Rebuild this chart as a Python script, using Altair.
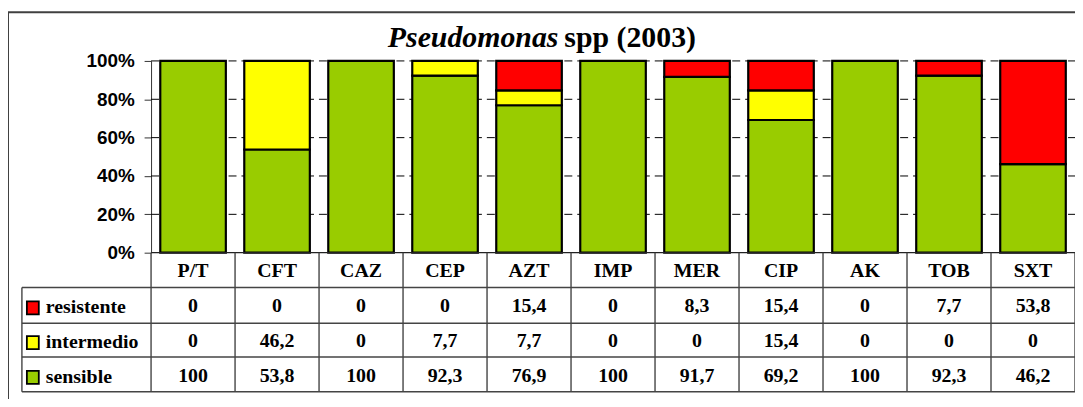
import altair as alt
import pandas as pd

cats = ["P/T", "CFT", "CAZ", "CEP", "AZT", "IMP", "MER", "CIP", "AK", "TOB", "SXT"]
resistente = [0, 0, 0, 0, 15.4, 0, 8.3, 15.4, 0, 7.7, 53.8]
intermedio = [0, 46.2, 0, 7.7, 7.7, 0, 0, 15.4, 0, 0, 0]
sensible = [100, 53.8, 100, 92.3, 76.9, 100, 91.7, 69.2, 100, 92.3, 46.2]
series_names = ["sensible", "intermedio", "resistente"]
series_colors = ["#99CC00", "#FFFF00", "#FF0000"]
y_ticks = [0, 20, 40, 60, 80, 100]

W = 930
H = 193
LINE = "#444444"
SERIF = "Liberation Serif"
SANS = "Liberation Sans"

rows = []
for i, c in enumerate(cats):
    for k, (name, vals) in enumerate(zip(series_names, [sensible, intermedio, resistente])):
        rows.append({"cat": c, "serie": name, "value": vals[i], "ord": k})
df = pd.DataFrame(rows)

xscale = alt.Scale(domain=cats, paddingInner=0, paddingOuter=0)
X = alt.X("cat:N", scale=xscale, axis=None)
yscale = alt.Scale(domain=[0, 100], nice=False, zero=True)
yaxis = alt.Axis(values=y_ticks, labelExpr="datum.value + '%'", labelFont=SANS,
                 labelFontWeight="bold", labelFontSize=19, labelColor="black",
                 tickSize=7, tickColor="#333333", domainColor="#333333",
                 labelPadding=10, grid=False, title=None)

one = pd.DataFrame({"a": [0]})
layers = []

# dashed gridlines
layers.append(
    alt.Chart(pd.DataFrame({"v": y_ticks[1:]})).mark_rule(color="black", strokeDash=[8, 5], strokeWidth=1)
    .encode(y=alt.Y("v:Q", scale=yscale, axis=yaxis), x=alt.value(0), x2=alt.value(W))
)

# stacked bars
layers.append(
    alt.Chart(df[df["value"] > 0]).mark_bar(width=66, stroke="black", strokeWidth=2.2)
    .encode(
        x=X,
        y=alt.Y("value:Q", stack="zero", scale=yscale, axis=yaxis),
        color=alt.Color("serie:N", scale=alt.Scale(domain=series_names, range=series_colors), legend=None),
        order=alt.Order("ord:Q", sort="ascending"),
    )
)

# table horizontal lines
layers.append(alt.Chart(one).mark_rule(color="#222222", strokeWidth=1.2).encode(
    x=alt.value(0), x2=alt.value(W), y=alt.value(H)))
for yy in [228, 264, 298, 333]:
    layers.append(alt.Chart(one).mark_rule(color=LINE, strokeWidth=1.4).encode(
        x=alt.value(-130), x2=alt.value(W), y=alt.value(yy)))
# table vertical lines
layers.append(alt.Chart(one).mark_rule(color=LINE, strokeWidth=1.4).encode(
    x=alt.value(-130), y=alt.value(228), y2=alt.value(333)))
layers.append(
    alt.Chart(pd.DataFrame({"cat": cats})).mark_rule(color=LINE, strokeWidth=1.4)
    .encode(x=alt.X("cat:N", scale=xscale, axis=None, bandPosition=0), y=alt.value(H), y2=alt.value(333))
)
layers.append(alt.Chart(one).mark_rule(color=LINE, strokeWidth=1.4).encode(
    x=alt.value(W), y=alt.value(H), y2=alt.value(333)))

# header
layers.append(
    alt.Chart(pd.DataFrame({"cat": cats})).mark_text(font=SERIF, fontWeight="bold", fontSize=20,
                                                     baseline="middle", color="black")
    .encode(x=X, y=alt.value(211), text="cat:N")
)

# value rows and row labels
row_y = {"resistente": 247, "intermedio": 282, "sensible": 317}
for name, col in zip(series_names, series_colors):
    sub = df[df["serie"] == name]
    layers.append(
        alt.Chart(sub).transform_calculate(label="replace(toString(datum.value), '.', ',')")
        .mark_text(font=SERIF, fontWeight="bold", fontSize=20, baseline="middle", color="black")
        .encode(x=X, y=alt.value(row_y[name]), text="label:N")
    )
    layers.append(
        alt.Chart(one).mark_rect(fill=col, stroke="black", strokeWidth=1.8)
        .encode(x=alt.value(-125), x2=alt.value(-113), y=alt.value(row_y[name] - 5), y2=alt.value(row_y[name] + 8))
    )
    layers.append(
        alt.Chart(one).mark_text(font=SERIF, fontWeight="bold", fontSize=20, align="left",
                                 baseline="middle", color="black")
        .encode(x=alt.value(-106), y=alt.value(row_y[name] + 1), text=alt.value(name))
    )

# title
layers.append(
    alt.Chart(one).mark_text(font=SERIF, fontWeight="bold", fontStyle="italic", fontSize=30,
                             align="right", baseline="alphabetic", color="black")
    .encode(x=alt.value(410), y=alt.value(-14), text=alt.value("Pseudomonas"))
)
layers.append(
    alt.Chart(one).mark_text(font=SERIF, fontWeight="bold", fontSize=30,
                             align="left", baseline="alphabetic", color="black")
    .encode(x=alt.value(416), y=alt.value(-14), text=alt.value("spp (2003)"))
)

# outer frame
layers.append(alt.Chart(one).mark_rule(color="#404040", strokeWidth=2).encode(
    x=alt.value(-144), x2=alt.value(W + 10), y=alt.value(-49)))
layers.append(alt.Chart(one).mark_rule(color="#404040", strokeWidth=2).encode(
    x=alt.value(-144), y=alt.value(-49), y2=alt.value(360)))

chart = alt.layer(*layers).properties(
    width=W, height=H,
    autosize=alt.AutoSizeParams(type="none"),
    padding={"left": 144, "top": 52, "right": 0, "bottom": 146},
).configure_view(stroke=None)

chart.save("out.html", embed_options={"renderer": "svg", "actions": False})
